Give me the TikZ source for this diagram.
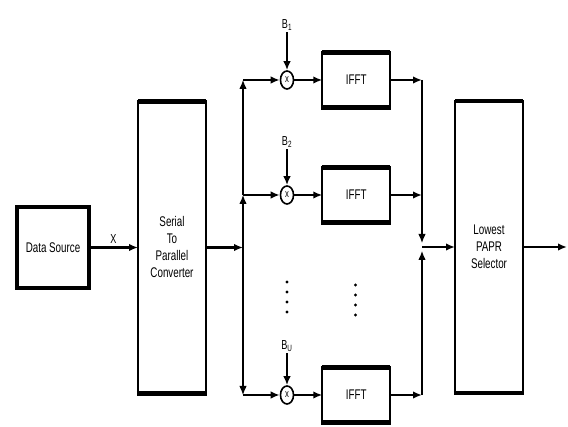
\documentclass[tikz,border=0pt]{standalone}
\usepackage{fontspec}
\setmainfont{Liberation Sans}[FakeStretch=0.7]
\usepackage{tikz}
\usetikzlibrary{arrows.meta,calc,positioning,shapes.geometric}

\begin{document}
\begin{tikzpicture}[
	x=1pt, y=1pt,
	auto,
	>={Latex[length=9pt,width=7.5pt]},
	node distance=28pt and 28pt,
	block/.style={draw, rectangle, line width=2.2pt, outer sep=0pt, minimum width=68pt, align=center, font=\fontsize{14}{17}\selectfont},
	srcblock/.style={block, line width=3.4pt, minimum width=72pt, minimum height=81pt},
	tallblock/.style={block, minimum height=292pt},
	fftblock/.style={block, minimum height=55pt},
	mult/.style={draw, ellipse, line width=1.6pt, inner sep=0pt, minimum width=13pt, minimum height=18pt, font=\fontsize{11}{11}\selectfont},
	coef/.style={font=\fontsize{13}{13}\selectfont, inner sep=1pt},
	signal/.style={->, line width=2.2pt},
	bus/.style={->, line width=1.2pt}
	]
	\useasboundingbox (0,0) rectangle (568,427);
	
	\node[srcblock] (src) at (53,179.5) {Data Source};
	\node[tallblock, right=49pt of src] (sp) {Serial\\To\\Parallel\\Converter};
	\node[tallblock] (papr) at (489,180) {Lowest\\PAPR\\Selector};
	
	% one multiplier and IFFT per phase sequence
	\node[mult] (m1) at (287,347) {x};
	\node[mult] (m2) at (287,232) {x};
	\node[mult] (m3) at (287,32) {x};
	\node[fftblock, right=28pt of m1] (fft1) {IFFT};
	\node[fftblock, right=28pt of m2] (fft2) {IFFT};
	\node[fftblock, right=28pt of m3] (fft3) {IFFT};
	
	\node[coef, above=38pt of m1] (b1) {B\textsubscript{1}};
	\node[coef, above=36pt of m2] (b2) {B\textsubscript{2}};
	\node[coef, above=32pt of m3] (bu) {B\textsubscript{U}};
	
	% thick top and bottom edges
	\foreach \n in {sp,papr,fft1,fft2,fft3}
	\draw[line width=4.4pt, shorten <=-1.1pt, shorten >=-1.1pt]
	(\n.north west) -- (\n.north east) (\n.south west) -- (\n.south east);
	
	\coordinate (lsplit) at ($(sp.east)+(37,0)$);
	\coordinate (l1) at (lsplit |- m1);
	\coordinate (l2) at (lsplit |- m2);
	\coordinate (l3) at (lsplit |- m3);
	\coordinate (rjoin) at ($(papr.west)+(-33,0)$);
	\coordinate (r1) at (rjoin |- fft1);
	\coordinate (r2) at (rjoin |- fft2);
	\coordinate (r3) at (rjoin |- fft3);
	\coordinate (out) at ($(papr.east)+(44,0)$);
	
	\draw[signal] (src) -- node[coef, inner sep=3pt] {X} (sp);
	\draw[signal] (sp) -- (lsplit);
	
	\draw[bus] (lsplit) -- (l2);
	\draw[bus] (l2) -- (l1);
	\draw[bus] (lsplit) -- (l3);
	
	\draw[signal] (l1) -- (m1);
	\draw[signal] (l2) -- (m2);
	\draw[signal] (l3) -- (m3);
	\draw[signal] (b1) -- (m1);
	\draw[signal] (b2) -- (m2);
	\draw[signal] (bu) -- (m3);
	\draw[signal] (m1) -- (fft1);
	\draw[signal] (m2) -- (fft2);
	\draw[signal] (m3) -- (fft3);
	\draw[signal] (fft1) -- (r1);
	\draw[signal] (fft2) -- (r2);
	\draw[signal] (fft3) -- (r3);
	
	\draw[bus] (r1) -- ($(rjoin)+(0,4)$);
	\draw[bus] (r3) -- ($(rjoin)+(0,-4)$);
	\draw[signal] (rjoin) -- (papr);
	\draw[signal] (papr) -- (out);
	
	% dots for the omitted branches
	\foreach \y in {145,135,125,115} \fill (287,\y) circle (1.6pt);
	\foreach \y in {142,132,122,112} \fill (355.5,\y) circle (1.6pt);
\end{tikzpicture}
\end{document}
